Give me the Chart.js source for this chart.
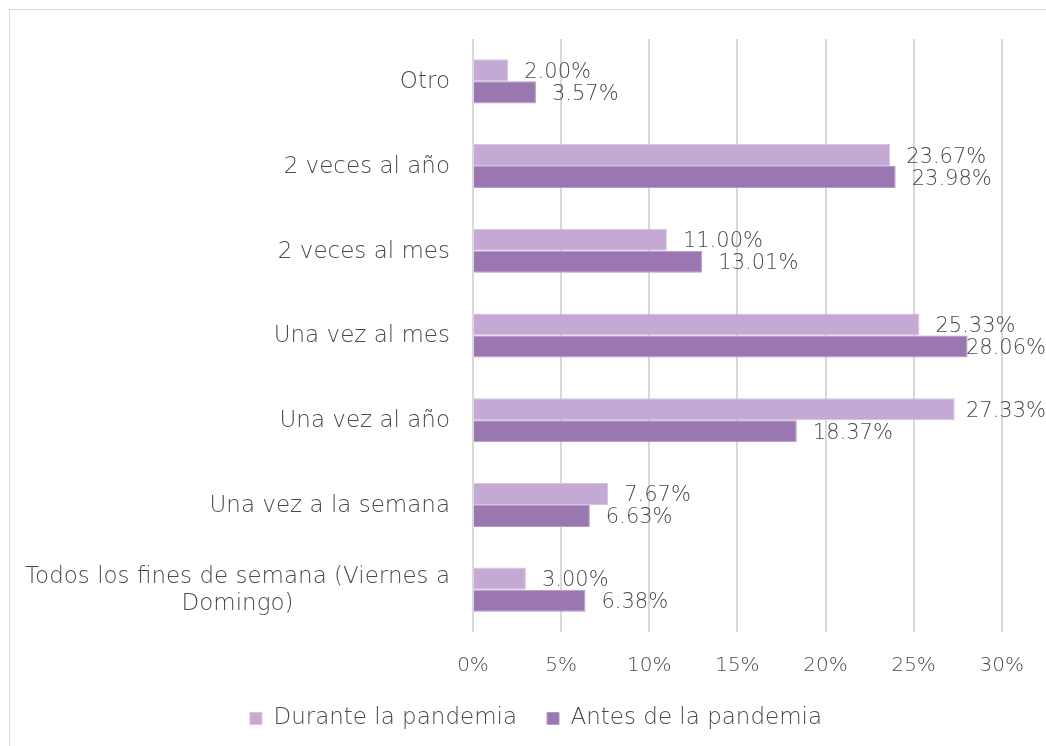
<!DOCTYPE html>
<html>
<head>
<meta charset="utf-8">
<script src="https://cdn.jsdelivr.net/npm/chart.js@4.4.0/dist/chart.umd.min.js"></script>
<style>
    html, body { margin: 0; padding: 0; background: #fff; }
    #wrap { position: relative; width: 1046px; height: 746px; overflow: hidden; }
    #frame { position: absolute; left: 9px; top: 9px; width: 1100px; height: 800px; border: 1px solid #d9d9d9; }
    #myChart { position: absolute; left: 0; top: 0; }
</style>
</head>
<body>
<div id="wrap">
    <div id="frame"></div>
    <canvas id="myChart" width="1046" height="746"></canvas>
</div>
<script>
    "use strict";

    var categoryList = [
        "Otro",
        "2 veces al año",
        "2 veces al mes",
        "Una vez al mes",
        "Una vez al año",
        "Una vez a la semana",
        ["Todos los fines de semana (Viernes a", "Domingo)"]
    ];
    var duranteList = [2.00, 23.67, 11.00, 25.33, 27.33, 7.67, 3.00];
    var antesList = [3.57, 23.98, 13.01, 28.06, 18.37, 6.63, 6.38];
    var seriesNames = ["Durante la pandemia", "Antes de la pandemia"];
    var tickList = [0, 5, 10, 15, 20, 25, 30];

    var fontFamily = "'DejaVu Sans', sans-serif";
    var textColor = "#4a4a4a";

    // category labels, right aligned, wrapped lines centred on each other
    var yLabelsPlugin = {
        id: "yLabels",
        afterDraw: function (chart) {
            var ctx = chart.ctx;
            var yScale = chart.scales.y;
            var right = chart.chartArea.left - 23;
            var lineH = 27;
            ctx.save();
            ctx.font = "200 23px " + fontFamily;
            ctx.fillStyle = textColor;
            ctx.textBaseline = "middle";
            ctx.textAlign = "center";
            categoryList.forEach(function (label, i) {
                var lines = Array.isArray(label) ? label : [label];
                var y = yScale.getPixelForTick(i) + 1;
                var maxW = 0;
                lines.forEach(function (l) { maxW = Math.max(maxW, ctx.measureText(l).width); });
                var cx = right - maxW / 2;
                var startY = y - (lines.length - 1) * lineH / 2;
                lines.forEach(function (l, k) {
                    ctx.fillText(l, cx, startY + k * lineH);
                });
            });
            ctx.restore();
        }
    };

    // value labels at the end of each bar
    var valueLabelsPlugin = {
        id: "valueLabels",
        afterDatasetsDraw: function (chart) {
            var ctx = chart.ctx;
            ctx.save();
            ctx.font = "200 21px " + fontFamily;
            ctx.fillStyle = textColor;
            ctx.textBaseline = "middle";
            ctx.textAlign = "left";
            chart.data.datasets.forEach(function (ds, di) {
                var meta = chart.getDatasetMeta(di);
                meta.data.forEach(function (bar, i) {
                    var txt = ds.data[i].toFixed(2) + "%";
                    var w = ctx.measureText(txt).width;
                    var x = Math.min(bar.x + 16, chart.width - w);
                    ctx.fillText(txt, x, bar.y + 2);
                });
            });
            ctx.restore();
        }
    };

    const ctx = document.getElementById("myChart");
    new Chart(ctx, {
        type: "bar",
        data: {
            labels: categoryList,
            datasets: [
                {
                    label: seriesNames[0],
                    data: duranteList,
                    backgroundColor: "#c4a9d5",
                    borderColor: "#d6c3e2",
                    borderWidth: 1,
                    categoryPercentage: 0.52,
                    barPercentage: 1.0,
                },
                {
                    label: seriesNames[1],
                    data: antesList,
                    backgroundColor: "#9b77b1",
                    borderColor: "#b49ac5",
                    borderWidth: 1,
                    categoryPercentage: 0.52,
                    barPercentage: 1.0,
                },
            ],
        },
        options: {
            indexAxis: "y",
            responsive: false,
            animation: false,
            devicePixelRatio: 1,
            layout: {
                padding: {top: 39, right: 43, bottom: 6, left: 69},
            },
            plugins: {
                legend: {
                    position: "bottom",
                    labels: {
                        boxWidth: 12,
                        boxHeight: 12,
                        padding: 30,
                        color: textColor,
                        font: {family: fontFamily, size: 23, weight: 200},
                    },
                },
                tooltip: {
                    enabled: false,
                },
            },
            scales: {
                x: {
                    min: tickList[0],
                    max: tickList[tickList.length - 1],
                    afterBuildTicks: function (scale) {
                        scale.ticks = tickList.map(function (v) { return {value: v}; });
                    },
                    afterFit: function (scale) {
                        scale.height = 45;
                    },
                    border: {display: false},
                    grid: {
                        color: "#d9d9d9",
                        lineWidth: 2,
                        drawTicks: false,
                    },
                    ticks: {
                        padding: 22,
                        color: textColor,
                        font: {family: fontFamily, size: 20, weight: 200},
                        callback: function (v) { return v + "%"; },
                    },
                },
                y: {
                    afterFit: function (scale) {
                        scale.width = 404;
                    },
                    border: {display: false},
                    grid: {display: false},
                    ticks: {display: false},
                },
            },
        },
        plugins: [yLabelsPlugin, valueLabelsPlugin],
    });
</script>
</body>
</html>
